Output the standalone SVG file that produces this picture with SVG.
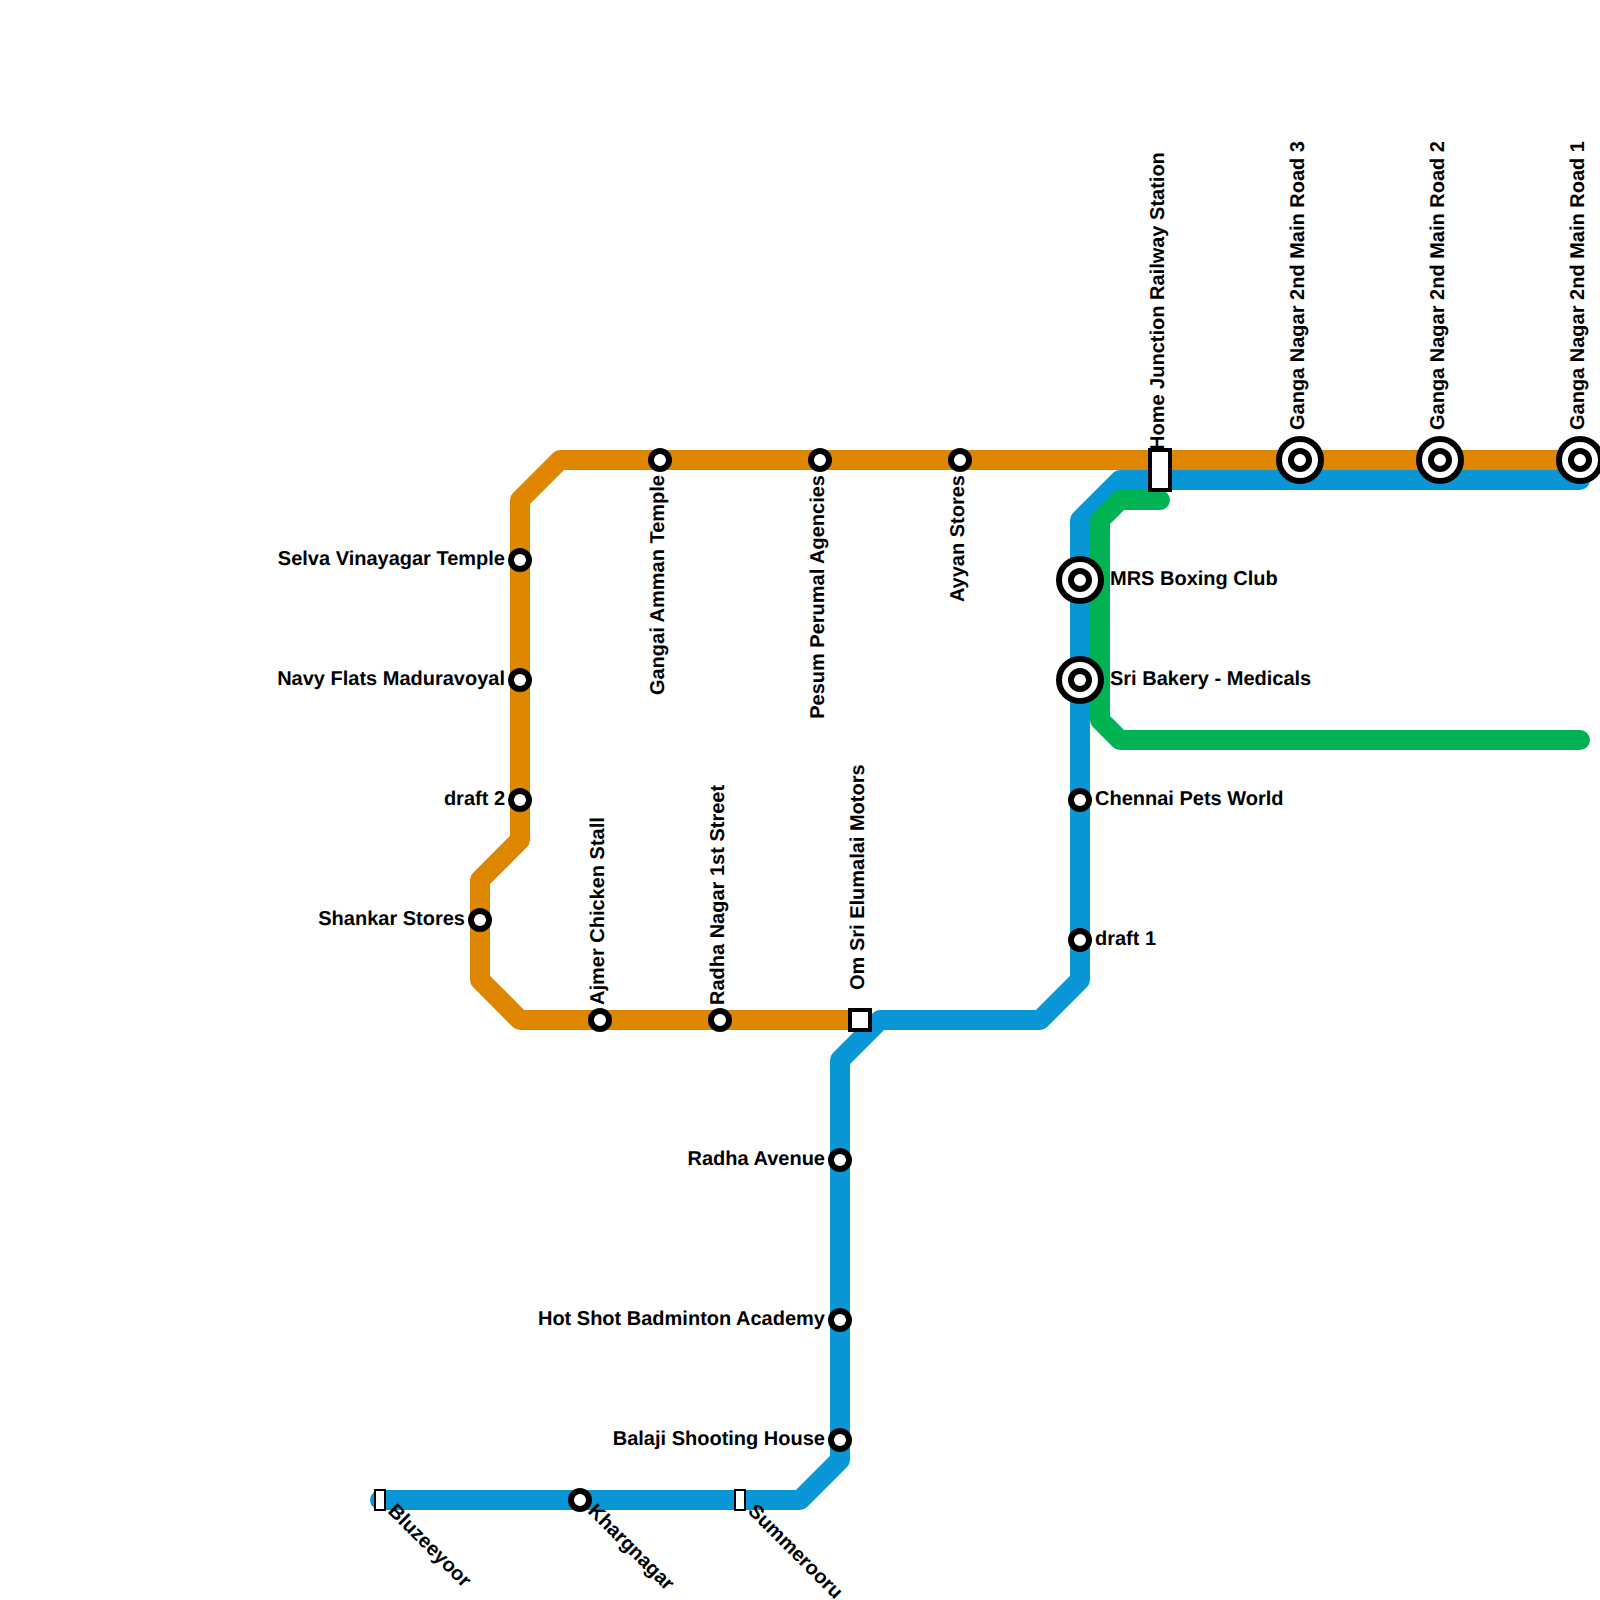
<svg xmlns="http://www.w3.org/2000/svg" width="1600" height="1600" viewBox="0 0 1600 1600">
<style>
.line{fill:none;stroke-width:20;stroke-linecap:round;stroke-linejoin:round}
.st{fill:#fff;stroke:#000;stroke-width:6}
.sq{fill:#fff;stroke:#000;stroke-width:4}
.sm{fill:#fff;stroke:#000;stroke-width:2}
text{font-family:"Liberation Sans",Arial,sans-serif;font-size:20px;font-weight:700;fill:#000;text-rendering:geometricPrecision}
.e{text-anchor:end}
</style>
<rect width="1600" height="1600" fill="#fff"/>
<g id="connectors">
<path class="line" stroke="#0896d7" d="M1580 480H1120L1080 520V980L1040 1020H880L840 1060V1460L800 1500H380"/>
<path class="line" stroke="#df8600" d="M1580 460H560L520 500V840L480 880V980L520 1020H860"/>
<path class="line" stroke="#00b251" d="M1160 500H1120L1100 520V720L1120 740H1580"/>
</g>
<g id="n-selva"><circle class="st" cx="520" cy="560" r="9"/><text class="e" x="505" y="565">Selva Vinayagar Temple</text></g>
<g id="n-navy"><circle class="st" cx="520" cy="680" r="9"/><text class="e" x="505" y="685">Navy Flats Maduravoyal</text></g>
<g id="n-draft2"><circle class="st" cx="520" cy="800" r="9"/><text class="e" x="505" y="805">draft 2</text></g>
<g id="n-shankar"><circle class="st" cx="480" cy="920" r="9"/><text class="e" x="465" y="925">Shankar Stores</text></g>
<g id="n-ajmer"><circle class="st" cx="600" cy="1020" r="9"/><text transform="translate(604 1005) rotate(-90)">Ajmer Chicken Stall</text></g>
<g id="n-radha1"><circle class="st" cx="720" cy="1020" r="9"/><text transform="translate(724 1005) rotate(-90)">Radha Nagar 1st Street</text></g>
<g id="n-om"><rect class="sq" x="850" y="1010" width="20" height="20"/><text transform="translate(864 990) rotate(-90)">Om Sri Elumalai Motors</text></g>
<g id="n-gangai"><circle class="st" cx="660" cy="460" r="9"/><text class="e" transform="translate(664 475) rotate(-90)">Gangai Amman Temple</text></g>
<g id="n-pesum"><circle class="st" cx="820" cy="460" r="9"/><text class="e" transform="translate(824 475) rotate(-90)">Pesum Perumal Agencies</text></g>
<g id="n-ayyan"><circle class="st" cx="960" cy="460" r="9"/><text class="e" transform="translate(964 475) rotate(-90)">Ayyan Stores</text></g>
<g id="n-home"><text transform="translate(1164 450) rotate(-90)">Home Junction Railway Station</text><rect class="sq" x="1150" y="450" width="20" height="40"/></g>
<g id="n-ganga3"><circle class="st" cx="1300" cy="460" r="21"/><circle class="st" cx="1300" cy="460" r="9"/><text transform="translate(1304 430) rotate(-90)">Ganga Nagar 2nd Main Road 3</text></g>
<g id="n-ganga2"><circle class="st" cx="1440" cy="460" r="21"/><circle class="st" cx="1440" cy="460" r="9"/><text transform="translate(1444 430) rotate(-90)">Ganga Nagar 2nd Main Road 2</text></g>
<g id="n-ganga1"><circle class="st" cx="1580" cy="460" r="21"/><circle class="st" cx="1580" cy="460" r="9"/><text transform="translate(1584 430) rotate(-90)">Ganga Nagar 2nd Main Road 1</text></g>
<g id="n-mrs"><circle class="st" cx="1080" cy="580" r="21"/><circle class="st" cx="1080" cy="580" r="9"/><text x="1110" y="585">MRS Boxing Club</text></g>
<g id="n-sri"><circle class="st" cx="1080" cy="680" r="21"/><circle class="st" cx="1080" cy="680" r="9"/><text x="1110" y="685">Sri Bakery - Medicals</text></g>
<g id="n-pets"><circle class="st" cx="1080" cy="800" r="9"/><text x="1095" y="805">Chennai Pets World</text></g>
<g id="n-draft1"><circle class="st" cx="1080" cy="940" r="9"/><text x="1095" y="945">draft 1</text></g>
<g id="n-radhaave"><circle class="st" cx="840" cy="1160" r="9"/><text class="e" x="825" y="1165">Radha Avenue</text></g>
<g id="n-hotshot"><circle class="st" cx="840" cy="1320" r="9"/><text class="e" x="825" y="1325">Hot Shot Badminton Academy</text></g>
<g id="n-balaji"><circle class="st" cx="840" cy="1440" r="9"/><text class="e" x="825" y="1445">Balaji Shooting House</text></g>
<g id="n-kharg"><circle class="st" cx="580" cy="1500" r="9"/><text transform="translate(587 1512) rotate(45)">Khargnagar</text></g>
<g id="n-summ"><rect class="sm" x="735" y="1490" width="10" height="20"/><text transform="translate(747 1512) rotate(45)">Summerooru</text></g>
<g id="n-bluz"><rect class="sm" x="375" y="1490" width="10" height="20"/><text transform="translate(387 1512) rotate(45)">Bluzeeyoor</text></g>
</svg>
